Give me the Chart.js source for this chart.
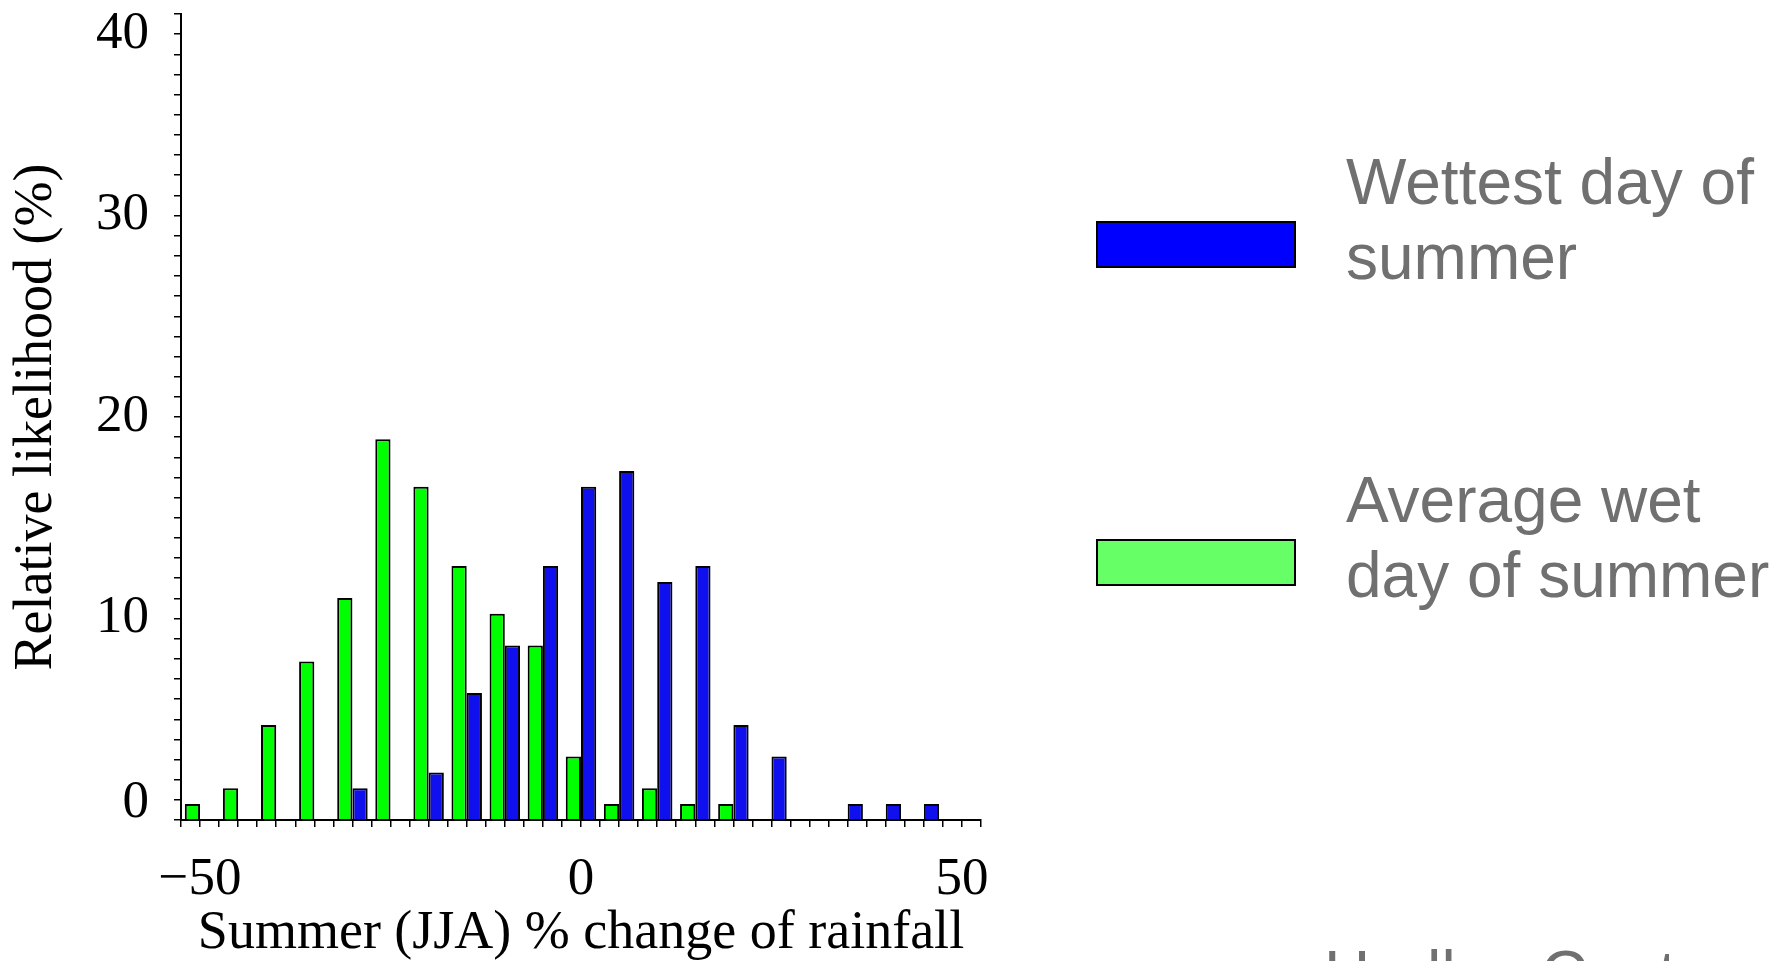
<!DOCTYPE html>
<html><head><meta charset="utf-8">
<script src="https://cdn.jsdelivr.net/npm/chart.js@4"></script>
<style>html,body{margin:0;padding:0;background:#fff;overflow:hidden}canvas{display:block}</style>
</head><body>
<canvas id="c" width="1774" height="961"></canvas>
<script>
// ---- data ----
const binCentres = [-50,-45,-40,-35,-30,-25,-20,-15,-10,-5,0,5,10,15,20,25,30,35,40,45,50];
const wettestDay = [0,0,0,0,1.57,0,2.36,6.30,8.66,12.60,16.54,17.32,11.81,12.60,4.72,3.15,0,0.79,0.79,0.79,0];
const averageWetDay = [0.79,1.57,4.72,7.87,11.02,18.90,16.54,12.60,10.24,8.66,3.15,0.79,1.57,0.79,0.79,0,0,0,0,0,0];
const seriesNames = [['Wettest day of','summer'],['Average wet','day of summer']];
const yTickValues = [0,10,20,30,40];
const xTickValues = [-50,0,50];
const xTickTexts = ['\u221250','0','50'];
const xTitle = 'Summer (JJA) % change of rainfall';
const yTitle = 'Relative likelihood (%)';
const creditText = 'Hadley Centre';

const SERIF = '"Liberation Serif", "Times New Roman", serif';
const SANS = '"Liberation Sans", Arial, sans-serif';

const toPoints = arr => binCentres.map((x, i) => ({x, y: arr[i]}));

const overlay = {
  id: 'overlay',
  afterDraw(chart) {
    const ctx = chart.ctx, ys = chart.scales.y, ca = chart.chartArea;
    ctx.save();
    // y tick labels
    ctx.font = '53px ' + SERIF;
    ctx.fillStyle = '#000';
    ctx.textAlign = 'right';
    ctx.textBaseline = 'middle';
    yTickValues.forEach(v => {
      let py = ys.getPixelForValue(v);
      py = Math.min(Math.max(py, ca.top + 20), ca.bottom - 17);
      ctx.fillText(String(v), ca.left - 32, py);
    });
    // legend
    const legend = [
      {fill: '#0000ff', lines: seriesNames[0], boxTop: 222},
      {fill: '#66ff66', lines: seriesNames[1], boxTop: 540}
    ];
    ctx.font = '64px ' + SANS;
    ctx.textAlign = 'left';
    ctx.textBaseline = 'alphabetic';
    legend.forEach(it => {
      ctx.fillStyle = it.fill;
      ctx.fillRect(1097, it.boxTop, 198, 45);
      ctx.lineWidth = 2;
      ctx.strokeStyle = '#000';
      ctx.strokeRect(1097, it.boxTop, 198, 45);
      ctx.fillStyle = '#707070';
      it.lines.forEach((t, k) => ctx.fillText(t, 1346, it.boxTop - 18 + k * 75));
    });
    // credit (cut off at bottom edge)
    ctx.fillText(creditText, 1324, 996);
    ctx.restore();
  }
};

new Chart(document.getElementById('c'), {
  type: 'bar',
  data: {
    datasets: [
      {label: seriesNames[1].join(' '), data: toPoints(averageWetDay), backgroundColor: '#00ff00', borderColor: '#000', borderWidth: 2},
      {label: seriesNames[0].join(' '), data: toPoints(wettestDay), backgroundColor: '#1010ee', borderColor: '#000', borderWidth: 2}
    ]
  },
  options: {
    responsive: false,
    animation: false,
    // the bar ruler uses the 2.5-unit tick spacing (half a bin), so 1.6 => 80% of a 5-unit bin
    categoryPercentage: 1.6,
    barPercentage: 1.0,
    layout: {padding: {left: 0, right: 793, top: 14, bottom: 0}},
    plugins: {legend: {display: false}, tooltip: {enabled: false}},
    scales: {
      x: {
        type: 'linear', min: -52.5, max: 52.5, offset: false,
        grid: {offset: false, drawOnChartArea: false, drawTicks: true, tickLength: 7, color: '#000', lineWidth: 1.5},
        border: {display: true, color: '#000', width: 2},
        ticks: {
          stepSize: 2.5, maxTicksLimit: 100, autoSkip: false, maxRotation: 0, minRotation: 0,
          padding: 27, color: '#000', font: {family: SERIF, size: 53, lineHeight: 1},
          callback: v => { const i = xTickValues.indexOf(v); return i >= 0 ? xTickTexts[i] : ''; }
        },
        title: {display: true, text: xTitle, color: '#000', font: {family: SERIF, size: 54, lineHeight: 1}, padding: {top: 0, bottom: 0}},
        afterFit: s => { s.height = 141; }
      },
      y: {
        min: 0, max: 40,
        grid: {drawOnChartArea: false, drawTicks: true, tickLength: 7, color: '#000', lineWidth: 1.5},
        border: {display: true, color: '#000', width: 2},
        ticks: {stepSize: 1, maxTicksLimit: 100, autoSkip: false, display: false},
        title: {display: true, text: yTitle, color: '#000', font: {family: SERIF, size: 54, lineHeight: 1.1}, padding: {top: 7, bottom: 0}},
        afterFit: s => { s.width = 181; }
      }
    }
  },
  plugins: [overlay]
});
</script>
</body></html>
